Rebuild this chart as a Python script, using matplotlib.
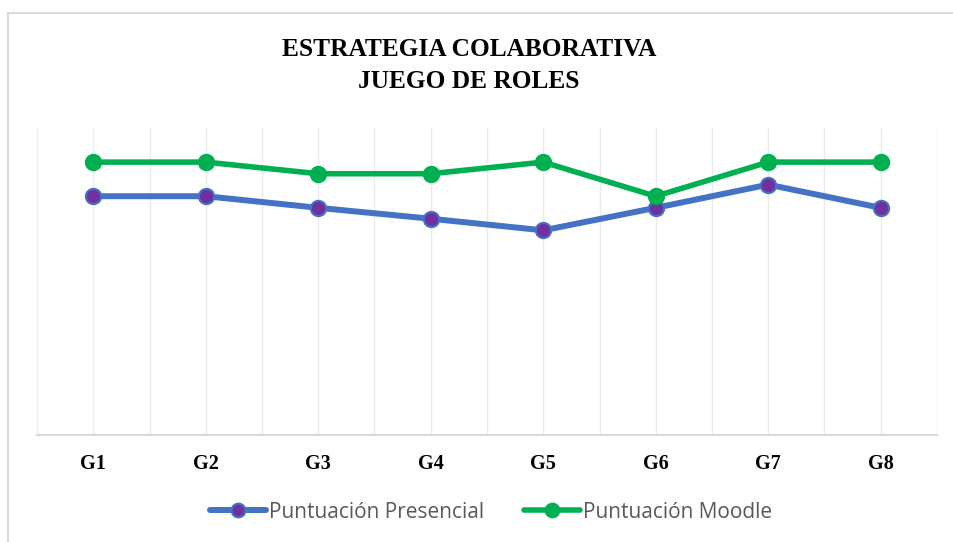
import matplotlib
matplotlib.use("Agg")
import matplotlib.pyplot as plt
from matplotlib.patches import Rectangle

categories = ["G1", "G2", "G3", "G4", "G5", "G6", "G7", "G8"]
presencial = [3.5, 3.5, 3.33, 3.17, 3.0, 3.33, 3.67, 3.33]
moodle = [4.0, 4.0, 3.83, 3.83, 4.0, 3.5, 4.0, 4.0]
title_lines = ["ESTRATEGIA COLABORATIVA", "JUEGO DE ROLES"]
series_names = ["Puntuación Presencial", "Puntuación Moodle"]

W, H = 954, 542
fig = plt.figure(figsize=(W / 100, H / 100), dpi=100)
ax = fig.add_axes([37 / W, 1 - 435 / H, 900 / W, 307 / H])

x = list(range(len(categories)))
ax.plot(x, presencial, color="#4472C4", lw=4.3, marker="o", markersize=11,
        markerfacecolor="#7030A0", markeredgecolor="#4472C4", markeredgewidth=1.5,
        label=series_names[0], zorder=3, solid_capstyle="round")
ax.plot(x, moodle, color="#00B050", lw=4.0, marker="o", markersize=11.5,
        markerfacecolor="#00B050", markeredgecolor="#00B050",
        label=series_names[1], zorder=3, solid_capstyle="round")

ax.set_xlim(-0.5, len(categories) - 0.5)
ax.set_ylim(0, 4.5)
for i in range(2 * len(categories) + 1):
    gx = -0.5 + 0.5 * i
    ax.axvline(gx, color="#EBEBEB", lw=1.0, zorder=1)

for s in ["top", "right", "left"]:
    ax.spines[s].set_visible(False)
ax.spines["bottom"].set_color("#D9D9D9")
ax.spines["bottom"].set_linewidth(1.5)
ax.set_yticks([])
ax.set_xticks(x)
ax.set_xticklabels(categories, fontfamily="Liberation Serif", fontweight="bold",
                   fontsize=14.5, color="black")
ax.tick_params(axis="x", length=0, pad=14)

fig.text(469 / W, 1 - 49 / H, title_lines[0], ha="center", va="center",
         fontfamily="Liberation Serif", fontweight="bold", fontsize=18.3)
fig.text(469 / W, 1 - 81 / H, title_lines[1], ha="center", va="center",
         fontfamily="Liberation Serif", fontweight="bold", fontsize=18.3)

leg = fig.legend(loc="center", bbox_to_anchor=(491 / W, 1 - 512 / H), ncol=2,
                 frameon=False, prop={"family": "Open Sans", "size": 15},
                 handlelength=2.7, handletextpad=0.15, columnspacing=1.9,
                 markerscale=0.9)
for t in leg.get_texts():
    t.set_color("#595959")

fig.patches.append(Rectangle((8 / W, -0.1), 1.2, (1 - 13 / H) + 0.1,
                             transform=fig.transFigure, fill=False,
                             edgecolor="#D9D9D9", lw=1.5))

fig.savefig("out.png", dpi=100)
